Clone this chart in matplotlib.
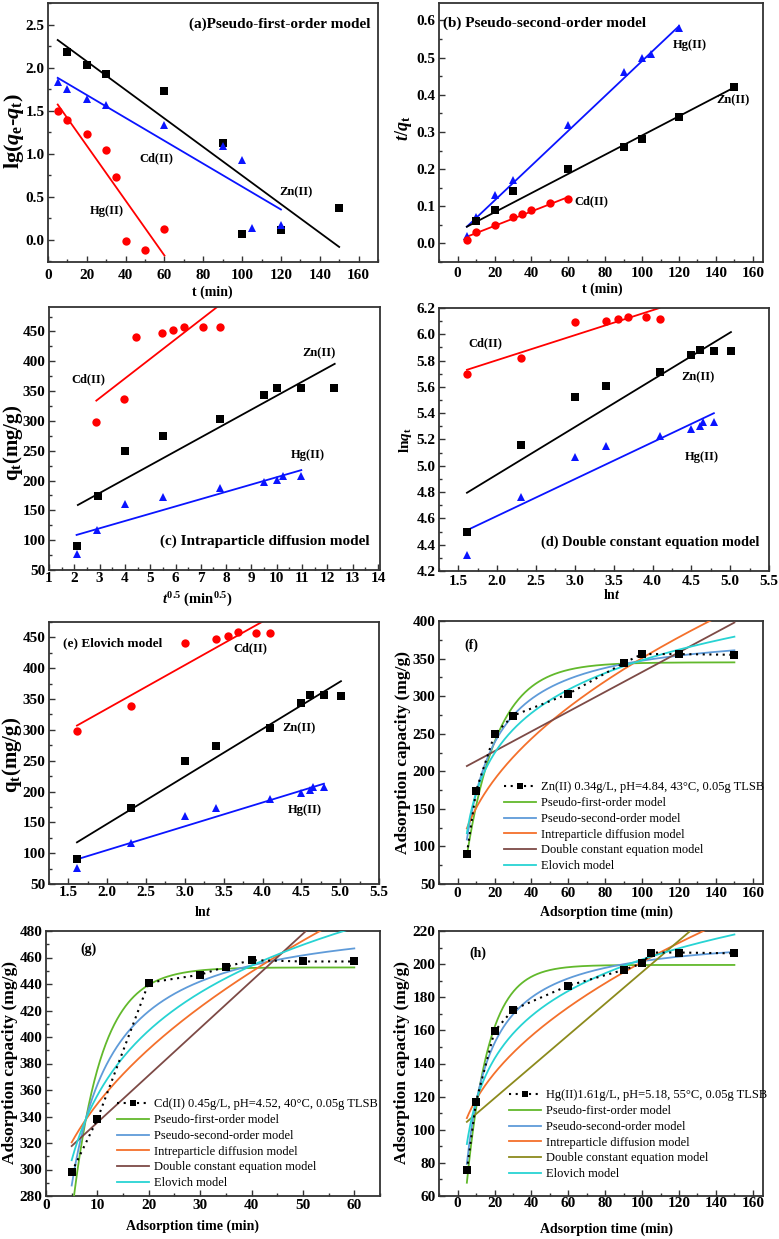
import matplotlib
matplotlib.use('Agg')
import matplotlib.pyplot as plt
import numpy as np
from matplotlib.ticker import MultipleLocator
from matplotlib.lines import Line2D

plt.rcParams['font.family'] = ['Liberation Serif', 'DejaVu Serif']
plt.rcParams['font.weight'] = 'bold'
plt.rcParams['mathtext.fontset'] = 'custom'
plt.rcParams['mathtext.rm'] = 'Liberation Serif:bold'
plt.rcParams['mathtext.it'] = 'Liberation Serif:bold:italic'
plt.rcParams['mathtext.bf'] = 'Liberation Serif:bold'

# ------------------------- DATA -------------------------
# (a) pseudo-first-order: lg(qe-qt) vs t
a_t_zn = [10, 20, 30, 60, 90, 100, 120, 150]
a_y_zn = [2.18, 2.03, 1.92, 1.73, 1.12, 0.06, 0.11, 0.37]
a_t_cd = [5, 10, 20, 30, 60, 90, 100, 105, 120]
a_y_cd = [1.83, 1.75, 1.64, 1.56, 1.33, 1.09, 0.92, 0.14, 0.17]
a_t_hg = [5, 10, 20, 30, 35, 40, 50, 60]
a_y_hg = [1.50, 1.39, 1.23, 1.04, 0.73, -0.02, -0.12, 0.12]
a_fit_zn = [[5, 150], [2.32, -0.085]]
a_fit_cd = [[5, 120], [1.88, 0.35]]
a_fit_hg = [[5, 60], [1.57, -0.185]]

# (b) pseudo-second-order: t/qt vs t
b_t_hg = [5, 10, 20, 30, 60, 90, 100, 105, 120]
b_y_hg = [0.02, 0.07, 0.13, 0.17, 0.32, 0.46, 0.50, 0.51, 0.58]
b_t_zn = [10, 20, 30, 60, 90, 100, 120, 150]
b_y_zn = [0.06, 0.09, 0.14, 0.20, 0.26, 0.28, 0.34, 0.42]
b_t_cd = [5, 10, 20, 30, 35, 40, 50, 60]
b_y_cd = [0.01, 0.03, 0.05, 0.07, 0.08, 0.09, 0.11, 0.12]
b_fit_hg = [[5, 120], [0.045, 0.585]]
b_fit_zn = [[5, 150], [0.045, 0.42]]
b_fit_cd = [[5, 60], [0.018, 0.125]]

# (c) intraparticle diffusion: qt vs t^0.5
c_x_cd = [2.87, 3.96, 4.45, 5.47, 5.91, 6.32, 7.07, 7.75]
c_y_cd = [298, 337, 441, 447, 453, 458, 457, 457]
c_x_zn = [2.12, 2.95, 4.02, 5.5, 7.75, 9.5, 10.0, 10.95, 12.25]
c_y_zn = [90, 174, 249, 274, 303, 344, 356, 356, 355]
c_x_hg = [2.1, 2.9, 4.02, 5.5, 7.75, 9.5, 10.0, 10.25, 10.95]
c_y_hg = [76, 117, 161, 173, 188, 197, 201, 208, 208]
c_fit_cd = [[2.87, 7.75], [334, 494.5]]
c_fit_zn = [[2.14, 12.29], [159, 395.7]]
c_fit_hg = [[2.09, 10.97], [108.8, 217.5]]

# (d) double constant: ln qt vs ln t
d_x_cd = [1.61, 2.30, 3.00, 3.40, 3.56, 3.69, 3.91, 4.09]
d_y_cd = [5.70, 5.82, 6.09, 6.10, 6.12, 6.13, 6.13, 6.12]
d_x_zn = [1.61, 2.30, 3.00, 3.40, 4.09, 4.50, 4.61, 4.79, 5.01]
d_y_zn = [4.50, 5.16, 5.52, 5.61, 5.71, 5.84, 5.88, 5.87, 5.87]
d_x_hg = [1.61, 2.30, 3.00, 3.40, 4.09, 4.50, 4.61, 4.65, 4.79]
d_y_hg = [4.32, 4.76, 5.07, 5.15, 5.23, 5.28, 5.30, 5.33, 5.33]
d_fit_cd = [[1.61, 4.09], [5.73, 6.2]]
d_fit_zn = [[1.61, 5.01], [4.795, 6.017]]
d_fit_hg = [[1.61, 4.79], [4.51, 5.40]]

# (e) Elovich: qt vs ln t
e_x_cd = [1.61, 2.30, 3.00, 3.40, 3.56, 3.69, 3.91, 4.09]
e_y_cd = [298, 338, 441, 447, 453, 458, 457, 457]
e_x_zn = [1.61, 2.30, 3.00, 3.40, 4.09, 4.50, 4.61, 4.79, 5.01]
e_y_zn = [90, 174, 249, 274, 303, 344, 356, 356, 355]
e_x_hg = [1.61, 2.30, 3.00, 3.40, 4.09, 4.50, 4.61, 4.65, 4.79]
e_y_hg = [76, 117, 160, 173, 188, 197, 202, 208, 208]
e_fit_cd = [[1.61, 4.09], [307, 482]]
e_fit_zn = [[1.61, 5.01], [117.6, 379]]
e_fit_hg = [[1.61, 4.79], [90, 212.7]]

# (f) Zn(II) kinetics and fitted model parameters
f_t = [5, 10, 20, 30, 60, 90, 100, 120, 150]
f_q = [90, 174, 249, 274, 303, 344, 356, 356, 355]
f_pfo = [345, 0.059]        # qe, k1
f_pso = [0.033, 0.00255]    # t/q = a + b t
f_ipd = [29.2, 58.7]        # kp, C
f_dce = [200.4, 1.317]      # intercept, slope
f_elo = [-6.2, 76.9]        # a + b ln t

# (g) Cd(II)
g_t = [5, 10, 20, 30, 35, 40, 50, 60]
g_q = [298, 338, 441, 447, 453, 458, 457, 457]
g_pfo = [452.5, 0.177]
g_pso = [0.00726, 0.002021]
g_ipd = [31.5, 250.0]
g_dce = [299.9, 3.56]
g_elo = [193.4, 70.6]

# (h) Hg(II)
h_t = [5, 10, 20, 30, 60, 90, 100, 105, 120, 150]
h_q = [75.5, 117, 159.5, 172.5, 187, 196.5, 200.5, 207, 207, 206.5]
h_pfo = [199.5, 0.0834]
h_pso = [0.04023, 0.004554]
h_ipd = [12.14, 79.9]
h_dce = [100.0, 0.952]
h_elo = [31.5, 37.2]

model_names = ['Pseudo-first-order model', 'Pseudo-second-order model',
               'Intreparticle diffusion model', 'Double constant equation model',
               'Elovich model']
legend_f = 'Zn(II) 0.34g/L, pH=4.84, 43\u00b0C, 0.05g TLSB'
legend_g = 'Cd(II) 0.45g/L, pH=4.52, 40\u00b0C, 0.05g TLSB'
legend_h = 'Hg(II)1.61g/L, pH=5.18, 55\u00b0C, 0.05g TLSB'

# ------------------------- FIGURE -------------------------
W, H = 779, 1239
fig = plt.figure(figsize=(W / 100, H / 100), dpi=100)

RED = '#ff0000'
BLUE = '#0a14ff'
BLK = '#000000'
GREEN = '#62b92c'
LBLUE = '#5f9bd9'
ORANGE = '#f4702b'
BROWN = '#7d4a46'
OLIVE = '#8c8a1c'
CYAN = '#27d3d3'
SPINE = '#333333'

TICK_FS = 11
TXT_FS = 9
XLAB_FS = 10
T_XLIM = (-10.1, 165.5)


def add_ax(l, r, t, b):
    return fig.add_axes([l / W, 1 - b / H, (r - l) / W, (b - t) / H])


def style(ax, xlim, ylim, xmaj, xmin, ymaj, ymin, xpad=3, ypad=2.5):
    ax.set_xlim(*xlim)
    ax.set_ylim(*ylim)
    ax.xaxis.set_major_locator(MultipleLocator(xmaj))
    ax.xaxis.set_minor_locator(MultipleLocator(xmin))
    ax.yaxis.set_major_locator(MultipleLocator(ymaj))
    ax.yaxis.set_minor_locator(MultipleLocator(ymin))
    ax.tick_params(which='both', direction='in', top=False, right=False,
                   labelsize=TICK_FS, color=SPINE, width=1.0)
    ax.tick_params(axis='x', which='both', pad=xpad)
    ax.tick_params(axis='y', which='both', pad=ypad)
    ax.tick_params(which='major', length=4)
    ax.tick_params(which='minor', length=2)
    for lab in ax.get_xticklabels() + ax.get_yticklabels():
        lab.set_fontweight('bold')
    for s in ax.spines.values():
        s.set_linewidth(1.3)
        s.set_color(SPINE)


def fig_text(x, y, s, **kw):
    fig.text(x / W, 1 - y / H, s, ha='center', va='center', **kw)


def pts(ax, x, y, color, marker):
    ax.plot(x, y, linestyle='none', marker=marker, color=color, markersize=6,
            markeredgewidth=0)


def fit(ax, f, color):
    ax.plot(f[0], f[1], color=color, lw=1.3)


# (a)
ax = add_ax(48, 378, 3, 262)
style(ax, (0, 170), (-0.26, 2.75), 20, 10, 0.5, 0.25, xpad=5)
fit(ax, a_fit_zn, BLK); fit(ax, a_fit_cd, BLUE); fit(ax, a_fit_hg, RED)
pts(ax, a_t_zn, a_y_zn, BLK, 's')
pts(ax, a_t_cd, a_y_cd, BLUE, '^')
pts(ax, a_t_hg, a_y_hg, RED, 'o')
ax.text(166, 2.5, '(a)Pseudo-first-order model', ha='right', va='center', fontsize=11, fontweight='bold')
ax.text(55.7, 0.95, 'Cd(II)', ha='center', va='center', fontsize=TXT_FS, fontweight='bold')
ax.text(128, 0.55, 'Zn(II)', ha='center', va='center', fontsize=TXT_FS, fontweight='bold')
ax.text(30.2, 0.33, 'Hg(II)', ha='center', va='center', fontsize=TXT_FS, fontweight='bold')
fig_text(212, 292, 't (min)', fontsize=XLAB_FS, fontweight='bold')
fig_text(14, 131, r'lg($q_\mathrm{e}$-$q_\mathrm{t}$)', fontsize=16, fontweight='bold', rotation=90)

# (b)
ax = add_ax(439, 763, 3, 262)
style(ax, T_XLIM, (-0.05, 0.647), 20, 10, 0.1, 0.05, xpad=3.6)
fit(ax, b_fit_hg, BLUE); fit(ax, b_fit_zn, BLK); fit(ax, b_fit_cd, RED)
pts(ax, b_t_hg, b_y_hg, BLUE, '^')
pts(ax, b_t_zn, b_y_zn, BLK, 's')
pts(ax, b_t_cd, b_y_cd, RED, 'o')
ax.text(-7.8, 0.592, '(b) Pseudo-second-order model', ha='left', va='center', fontsize=11, fontweight='bold')
ax.text(126, 0.535, 'Hg(II)', ha='center', va='center', fontsize=TXT_FS, fontweight='bold')
ax.text(149.5, 0.385, 'Zn(II)', ha='center', va='center', fontsize=TXT_FS, fontweight='bold')
ax.text(72.7, 0.113, 'Cd(II)', ha='center', va='center', fontsize=TXT_FS, fontweight='bold')
fig_text(602, 289, 't (min)', fontsize=XLAB_FS, fontweight='bold')
fig_text(404, 128, r'$t/q_\mathrm{t}$', fontsize=13, fontweight='bold', rotation=90)

# (c)
ax = add_ax(49, 380, 307, 570)
style(ax, (1, 14.08), (50, 491), 1, 0.5, 50, 25, xpad=1.5)
fit(ax, c_fit_cd, RED); fit(ax, c_fit_zn, BLK); fit(ax, c_fit_hg, BLUE)
pts(ax, c_x_cd, c_y_cd, RED, 'o')
pts(ax, c_x_zn, c_y_zn, BLK, 's')
pts(ax, c_x_hg, c_y_hg, BLUE, '^')
ax.text(13.67, 97.6, '(c) Intraparticle diffusion model', ha='right', va='center', fontsize=11, fontweight='bold')
ax.text(2.55, 370, 'Cd(II)', ha='center', va='center', fontsize=TXT_FS, fontweight='bold')
ax.text(11.67, 414, 'Zn(II)', ha='center', va='center', fontsize=TXT_FS, fontweight='bold')
ax.text(11.24, 243, 'Hg(II)', ha='center', va='center', fontsize=TXT_FS, fontweight='bold')
fig_text(197, 600, r'$t^{0.5}$ (min$^{0.5}$)', fontsize=10.5, fontweight='bold')
fig_text(13, 443, r'q$_\mathrm{t}$(mg/g)', fontsize=15, fontweight='bold', rotation=90)

# (d)
ax = add_ax(439, 769, 308, 571)
style(ax, (1.25, 5.5), (4.2, 6.2), 0.5, 0.25, 0.2, 0.1, xpad=3)
fit(ax, d_fit_cd, RED); fit(ax, d_fit_zn, BLK); fit(ax, d_fit_hg, BLUE)
pts(ax, d_x_cd, d_y_cd, RED, 'o')
pts(ax, d_x_zn, d_y_zn, BLK, 's')
pts(ax, d_x_hg, d_y_hg, BLUE, '^')
ax.text(5.37, 4.42, '(d) Double constant equation model', ha='right', va='center', fontsize=10.3, fontweight='bold')
ax.text(1.85, 5.93, 'Cd(II)', ha='center', va='center', fontsize=TXT_FS, fontweight='bold')
ax.text(4.59, 5.67, 'Zn(II)', ha='center', va='center', fontsize=TXT_FS, fontweight='bold')
ax.text(4.63, 5.07, 'Hg(II)', ha='center', va='center', fontsize=TXT_FS, fontweight='bold')
fig_text(612, 595, r'ln$t$', fontsize=XLAB_FS, fontweight='bold')
fig_text(405, 440, r'ln$q_\mathrm{t}$', fontsize=11, fontweight='bold', rotation=90)

# (e)
ax = add_ax(49, 379, 622, 884)
style(ax, (1.25, 5.5), (50, 475), 0.5, 0.25, 50, 25, xpad=1.5)
fit(ax, e_fit_cd, RED); fit(ax, e_fit_zn, BLK); fit(ax, e_fit_hg, BLUE)
pts(ax, e_x_cd, e_y_cd, RED, 'o')
pts(ax, e_x_zn, e_y_zn, BLK, 's')
pts(ax, e_x_hg, e_y_hg, BLUE, '^')
ax.text(1.43, 440, '(e) Elovich model', ha='left', va='center', fontsize=9.5, fontweight='bold')
ax.text(3.84, 433, 'Cd(II)', ha='center', va='center', fontsize=TXT_FS, fontweight='bold')
ax.text(4.47, 302, 'Zn(II)', ha='center', va='center', fontsize=TXT_FS, fontweight='bold')
ax.text(4.54, 170, 'Hg(II)', ha='center', va='center', fontsize=TXT_FS, fontweight='bold')
fig_text(203, 912, r'ln$t$', fontsize=XLAB_FS, fontweight='bold')
fig_text(12, 755, r'q$_\mathrm{t}$(mg/g)', fontsize=15, fontweight='bold', rotation=90)


def kinetics(ax, t, q, pfo, pso, ipd, dce, elo, dce_color, tmax, leg_label, leg_xy):
    tt = np.linspace(min(t), tmax, 400)
    curves = [
        pfo[0] * (1 - np.exp(-pfo[1] * tt)),
        tt / (pso[0] + pso[1] * tt),
        ipd[0] * np.sqrt(tt) + ipd[1],
        dce[0] + dce[1] * tt,
        elo[0] + elo[1] * np.log(tt),
    ]
    colors = [GREEN, LBLUE, ORANGE, dce_color, CYAN]
    handles = []
    ax.plot(t, q, linestyle=(0, (1, 2.2)), color=BLK, lw=1.5, marker='s',
            markersize=6, markeredgewidth=0, zorder=5)
    handles.append(Line2D([], [], linestyle=(0, (1, 2.2)), color=BLK, lw=1.5,
                          marker='s', markersize=5, markeredgewidth=0))
    for c, col in zip(curves, colors):
        ax.plot(tt, c, color=col, lw=1.3, zorder=3)
        handles.append(Line2D([], [], color=col, lw=1.3))
    ax.legend(handles, [leg_label] + model_names, loc='upper left',
              bbox_to_anchor=leg_xy, frameon=False, borderaxespad=0, borderpad=0,
              handlelength=2.6, handletextpad=0.35, labelspacing=0.3,
              prop={'family': 'Liberation Serif', 'weight': 'normal', 'size': 9})


# (f)
ax = add_ax(439, 763, 621, 884)
style(ax, T_XLIM, (50, 400), 20, 10, 50, 25, xpad=2)
kinetics(ax, f_t, f_q, f_pfo, f_pso, f_ipd, f_dce, f_elo, BROWN, 150, legend_f, (0.2, 0.39))
ax.text(7.6, 368, '(f)', ha='center', va='center', fontsize=TXT_FS + 1, fontweight='bold')
fig_text(607, 912, 'Adsorption time (min)', fontsize=XLAB_FS, fontweight='bold')
fig_text(403, 753, 'Adsorption capacity (mg/g)', fontsize=12.5, fontweight='bold', rotation=90)

# (g)
ax = add_ax(46, 380, 931, 1196)
style(ax, (0, 65), (280, 480), 10, 5, 20, 10, xpad=2)
kinetics(ax, g_t, g_q, g_pfo, g_pso, g_ipd, g_dce, g_elo, BROWN, 60, legend_g, (0.212, 0.368))
ax.text(8.25, 466, '(g)', ha='center', va='center', fontsize=TXT_FS + 1, fontweight='bold')
fig_text(193, 1226, 'Adsorption time (min)', fontsize=XLAB_FS, fontweight='bold')
fig_text(10, 1062, 'Adsorption capacity (mg/g)', fontsize=12.5, fontweight='bold', rotation=90)

# (h)
ax = add_ax(439, 763, 931, 1196)
style(ax, T_XLIM, (60, 220), 20, 10, 20, 10, xpad=0.5)
kinetics(ax, h_t, h_q, h_pfo, h_pso, h_ipd, h_dce, h_elo, OLIVE, 150, legend_h, (0.215, 0.402))
ax.text(10.7, 206.3, '(h)', ha='center', va='center', fontsize=TXT_FS + 1, fontweight='bold')
fig_text(607, 1229, 'Adsorption time (min)', fontsize=XLAB_FS, fontweight='bold')
fig_text(402, 1063, 'Adsorption capacity (mg/g)', fontsize=12.5, fontweight='bold', rotation=90)

fig.savefig('out.png', dpi=100)
